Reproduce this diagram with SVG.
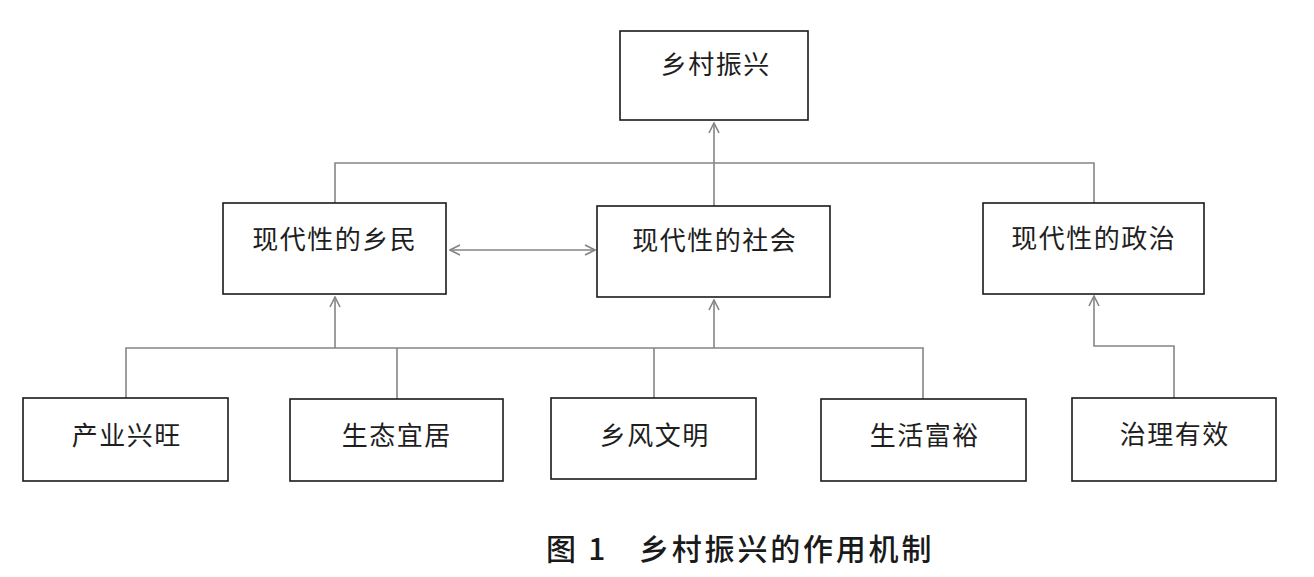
<svg xmlns="http://www.w3.org/2000/svg" width="1314" height="577" viewBox="0 0 1314 577">
<style>
.box{fill:#fff;stroke:#1a1a1a;stroke-width:1.6}
.lbl{font-family:"Noto Sans CJK SC","Noto Sans",sans-serif;font-size:26px;fill:#1e1e1e;text-anchor:middle;dominant-baseline:central;letter-spacing:1.5px}
.cap{font-family:"Noto Sans CJK SC","Noto Sans",sans-serif;font-size:30px;font-weight:500;fill:#1a1a1a;dominant-baseline:central;letter-spacing:2.8px}
.con{fill:none;stroke:#858585;stroke-width:1.6}
</style>
<defs>
<marker id="arr" viewBox="0 0 12 12" refX="11" refY="6" markerWidth="12" markerHeight="12" markerUnits="userSpaceOnUse" orient="auto-start-reverse">
<path d="M1,1 L11,6 L1,11" fill="none" stroke="#858585" stroke-width="1.6"/>
</marker>
</defs>
<rect width="1314" height="577" fill="#fff"/>
<g id="connectors">
<path class="con" d="M335,203 V163 H1094 V203"/>
<path class="con" d="M714,206 V123" marker-end="url(#arr)"/>
<path class="con" d="M450,250 H595" marker-start="url(#arr)" marker-end="url(#arr)"/>
<path class="con" d="M126,398 V348 H923 V399"/>
<path class="con" d="M397,348 V399"/>
<path class="con" d="M654,348 V398"/>
<path class="con" d="M335,348 V297" marker-end="url(#arr)"/>
<path class="con" d="M714,348 V300" marker-end="url(#arr)"/>
<path class="con" d="M1174,398 V346 H1094 V296" marker-end="url(#arr)"/>
</g>
<g id="n-top">
<rect class="box" x="620" y="31" width="188" height="89"/>
<text class="lbl" x="715.8" y="62.5">乡村振兴</text>
</g>
<g id="n-villager">
<rect class="box" x="223" y="203" width="223" height="91"/>
<text class="lbl" x="334.8" y="237">现代性的乡民</text>
</g>
<g id="n-society">
<rect class="box" x="597" y="206" width="233" height="91"/>
<text class="lbl" x="714.8" y="238.5">现代性的社会</text>
</g>
<g id="n-politics">
<rect class="box" x="983" y="203" width="221" height="91"/>
<text class="lbl" x="1093.8" y="236.5">现代性的政治</text>
</g>
<g id="n-industry">
<rect class="box" x="23" y="398" width="205" height="83"/>
<text class="lbl" x="126.8" y="433">产业兴旺</text>
</g>
<g id="n-ecology">
<rect class="box" x="290" y="399" width="213" height="82"/>
<text class="lbl" x="396.8" y="433">生态宜居</text>
</g>
<g id="n-custom">
<rect class="box" x="551" y="398" width="205" height="81"/>
<text class="lbl" x="654.8" y="433">乡风文明</text>
</g>
<g id="n-life">
<rect class="box" x="821" y="399" width="205" height="82"/>
<text class="lbl" x="924.8" y="433.5">生活富裕</text>
</g>
<g id="n-govern">
<rect class="box" x="1072" y="398" width="204" height="83"/>
<text class="lbl" x="1174.8" y="432">治理有效</text>
</g>
<text class="cap" y="546.5"><tspan x="546">图 1</tspan><tspan x="639">乡村振兴的作用机制</tspan></text>
</svg>
